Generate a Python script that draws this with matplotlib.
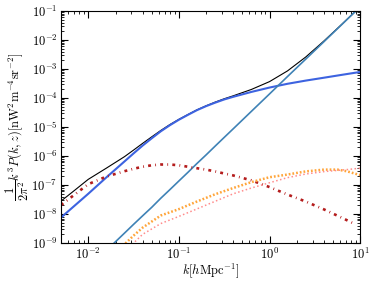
import numpy as np
import matplotlib
matplotlib.use('Agg')
import matplotlib.pyplot as plt
from matplotlib.ticker import LogLocator, NullFormatter

plt.rcParams['font.family'] = 'serif'
plt.rcParams['font.serif'] = ['cmr10']
plt.rcParams['mathtext.fontset'] = 'cm'
plt.rcParams['axes.formatter.use_mathtext'] = True

k = [0.00501, 0.00708, 0.01, 0.0158, 0.0251, 0.0316, 0.0398, 0.0501, 0.0631,
     0.0794, 0.1, 0.126, 0.158, 0.2, 0.251, 0.316, 0.398, 0.631, 1.0, 1.58,
     2.51, 3.98, 6.31, 10.0]
total = [2.8e-8, 6.6e-8, 1.57e-7, 3.8e-7, 9.5e-7, 1.6e-6, 2.73e-6, 4.57e-6,
         7.6e-6, 1.21e-5, 1.84e-5, 2.7e-5, 3.9e-5, 5.4e-5, 7.2e-5, 9.4e-5,
         1.19e-4, 1.97e-4, 3.67e-4, 8.6e-4, 2.59e-3, 9.2e-3, 3.53e-2, 1.39e-1]
clustering = [7.6e-9, 1.95e-8, 5.0e-8, 1.82e-7, 6.5e-7, 1.23e-6, 2.29e-6,
              4.07e-6, 7.1e-6, 1.15e-5, 1.78e-5, 2.63e-5, 3.8e-5, 5.25e-5,
              6.9e-5, 8.9e-5, 1.10e-4, 1.62e-4, 2.29e-4, 3.09e-4, 3.98e-4,
              5.0e-4, 6.3e-4, 7.9e-4]
shot = [1.7e-11, 4.8e-11, 1.38e-10, 5.5e-10, 2.2e-9, 4.4e-9, 8.7e-9, 1.7e-8,
        3.5e-8, 6.9e-8, 1.38e-7, 2.75e-7, 5.5e-7, 1.1e-6, 2.19e-6, 4.37e-6,
        8.7e-6, 3.47e-5, 1.38e-4, 5.5e-4, 2.19e-3, 8.7e-3, 3.47e-2, 1.38e-1]

# dash-dot term
k_red = [0.00501, 0.00708, 0.01, 0.0158, 0.0251, 0.0316, 0.0398, 0.0501,
         0.0631, 0.0794, 0.1, 0.126, 0.158, 0.2, 0.251, 0.316, 0.398, 0.631,
         1.0, 1.58, 2.51, 3.98, 6.31, 8.5]
red = [2.04e-8, 4.7e-8, 1.07e-7, 1.95e-7, 3.0e-7, 3.63e-7, 4.27e-7, 4.8e-7,
       5.1e-7, 5.1e-7, 4.8e-7, 4.27e-7, 3.8e-7, 3.4e-7, 2.95e-7, 2.5e-7,
       2.14e-7, 1.45e-7, 8.5e-8, 4.7e-8, 2.7e-8, 1.45e-8, 7.4e-9, 4.7e-9]

# dotted terms
k_dot = [0.024, 0.0316, 0.0398, 0.0631, 0.1, 0.158, 0.251, 0.398, 0.631,
         1.0, 1.58, 2.51, 3.98, 5.62, 7.08, 10.0]
orange = [7.9e-10, 1.8e-9, 3.4e-9, 8.9e-9, 1.48e-8, 2.7e-8, 4.8e-8, 7.9e-8,
          1.26e-7, 1.86e-7, 2.3e-7, 2.95e-7, 3.4e-7, 3.4e-7, 3.0e-7, 2.2e-7]
pink = [5.0e-10, 1.0e-9, 2.0e-9, 4.7e-9, 8.3e-9, 1.5e-8, 2.75e-8, 5.0e-8,
        7.9e-8, 1.2e-7, 1.8e-7, 2.4e-7, 2.9e-7, 3.2e-7, 3.4e-7, 3.8e-7]

fig = plt.figure(figsize=(3.74, 2.81), dpi=100)
ax = fig.add_axes([0.163, 0.135, 0.8, 0.826])

ax.plot(k, total, color='black', lw=0.8)
ax.plot(k, clustering, color='#3d63e0', lw=1.5)
ax.plot(k, shot, color='#3f82b6', lw=1.2)
ax.plot(k_red, red, color='#b41c1c', lw=1.9, ls=(0, (1.1, 1.6, 0.3, 1.6)))
ax.plot(k_dot, orange, color='#ffa53a', lw=1.8, ls=(0, (0.7, 0.8)))
ax.plot(k_dot, pink, color='#ff8c8c', lw=1.1, ls=(0, (1, 1.6)))

ax.set_xscale('log')
ax.set_yscale('log')
ax.set_xlim(5e-3, 10)
ax.set_ylim(1e-9, 1e-1)
ax.yaxis.set_major_locator(LogLocator(base=10, numticks=20))
ax.yaxis.set_minor_locator(LogLocator(base=10, subs=np.arange(2, 10), numticks=100))
ax.yaxis.set_minor_formatter(NullFormatter())
ax.tick_params(which='both', direction='in', top=True, right=True, labelsize=9)
ax.tick_params(which='major', length=5, pad=2.5)
ax.tick_params(which='minor', length=2.5)

ax.set_xlabel(r'$k[h\mathrm{Mpc}^{-1}]$', fontsize=9, labelpad=0)
ax.set_ylabel(r'$\dfrac{1}{2\pi^2}k^3P(k,z)[\mathrm{nW^2m^{-4}sr^{-2}}]$', fontsize=9, labelpad=0)

fig.savefig('out.png', dpi=100)
